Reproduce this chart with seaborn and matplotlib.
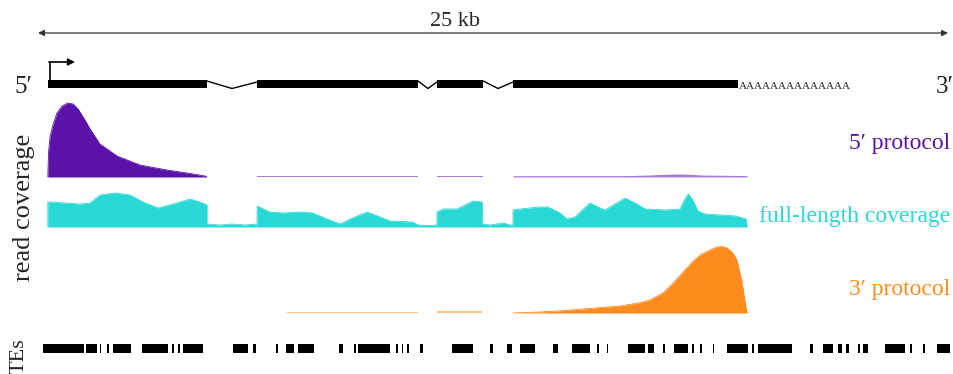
"""
Gene model schematic with read coverage of 5', full-length and 3' protocols
"""

import numpy as np
import pandas as pd
import matplotlib.pyplot as plt
from matplotlib.patches import Rectangle
import seaborn as sns

# ============================================================================
# DATA (positions in kb along the 25 kb locus, coverage in arbitrary units)
# ============================================================================

LOCUS_KB = 25
EXONS_KB = [(0.27, 4.64), (6.02, 10.44), (10.96, 12.23), (13.05, 19.23)]
INTRON_DIP_KB = [5.33, 10.71, 12.64]
POLYA = "AAAAAAAAAAAAAA"

FIVE_KB = [
    [0.27, 0.29, 0.33, 0.41, 0.52, 0.66, 0.82, 0.96, 1.10, 1.29, 1.43, 1.70,
     2.17, 2.80, 3.54, 4.09, 4.59, 4.64],
    [6.02, 10.44],
    [10.96, 12.23],
    [13.05, 16.20, 16.81, 17.30, 17.64, 18.00, 18.19, 19.48],
]
FIVE_H = [
    [0, 25, 40, 52, 64, 71, 74, 73, 68, 57, 48, 33, 21, 12, 7, 4, 1, 0],
    [1.5, 1.5],
    [1.2, 1.2],
    [1.3, 1.4, 2.0, 2.8, 3.0, 2.6, 2.0, 1.4],
]

FULL_KB = [
    [0.27, 0.27, 0.33, 1.15, 1.43, 1.70, 2.12, 2.53, 2.88, 3.30, 3.71, 4.18,
     4.45, 4.64, 4.64, 5.00, 5.33, 5.69, 6.02, 6.02, 6.37, 6.73, 7.20, 7.55,
     7.94, 8.30, 8.57, 9.04, 9.40, 9.67, 10.30, 10.44, 10.71, 10.96, 10.96,
     11.13, 11.51, 11.95, 12.20, 12.20, 12.42, 12.77, 12.97, 13.05, 13.05,
     13.24, 13.79, 14.01, 14.34, 14.53, 14.75, 15.16, 15.38, 15.58, 15.85,
     16.13, 16.40, 16.68, 17.23, 17.64, 17.77, 17.86, 17.97, 18.13, 18.32,
     18.74, 19.15, 19.45, 19.48],
]
FULL_H = [
    [0, 25, 25, 23, 24, 32, 34, 32, 25, 19, 23, 28, 25, 22, 3, 2, 3, 2, 3, 21,
     15, 14, 15, 14, 8, 3, 8, 15, 10, 6, 5, 2, 1.5, 2, 15, 18, 18, 26, 25, 3,
     2, 4, 2, 2, 17, 18, 20, 20, 14, 8, 10, 24, 20, 17, 23, 29, 24, 18, 17,
     18, 28, 33, 28, 16, 13, 12, 11, 8, 0],
]

THREE_KB = [
    [6.84, 10.44],
    [10.96, 12.20],
    [13.05, 13.79, 14.40, 14.97, 15.99, 16.50, 16.81, 17.17, 17.45, 17.72,
     18.00, 18.19, 18.46, 18.65, 18.80, 18.93, 19.09, 19.20, 19.34, 19.42,
     19.48],
]
THREE_H = [
    [1.5, 1.5],
    [1.8, 1.8],
    [0, 1, 2.3, 4, 7, 10, 13, 20, 30, 41, 52, 58, 63, 66, 66.5, 65, 60, 53,
     31, 12, 0],
]

TES_KB = [
    (0.14, 1.26), (1.32, 1.62), (1.70, 1.73), (1.90, 1.95), (2.06, 2.55),
    (2.86, 3.57), (3.68, 3.74), (3.85, 3.90), (3.98, 4.53), (5.36, 5.77),
    (5.91, 5.99), (6.54, 6.59), (6.81, 7.03), (7.14, 7.58), (8.27, 8.38),
    (8.68, 8.74), (8.79, 9.67), (9.84, 9.89), (10.00, 10.03), (10.14, 10.16),
    (10.49, 10.58), (11.37, 11.95), (12.42, 12.50), (12.88, 13.02),
    (13.24, 13.65), (14.15, 14.29), (14.67, 15.16), (15.36, 15.38),
    (15.63, 15.66), (16.21, 16.68), (16.76, 16.92), (17.17, 17.23),
    (17.47, 17.86), (17.97, 18.02), (18.19, 18.24), (18.54, 18.57),
    (18.93, 19.51), (19.62, 19.64), (19.78, 20.71), (21.21, 21.29),
    (21.57, 21.84), (21.98, 22.09), (22.20, 22.28), (22.53, 22.58),
    (22.66, 22.80), (23.27, 23.82), (23.96, 24.01), (24.31, 24.37),
    (24.70, 25.05),
]

TRACKS = ['5′ protocol', 'full-length coverage', '3′ protocol']
COLORS = ['#5a12a8', '#28d8d4', '#fd8b1e']

# ============================================================================
# LAYOUT (figure pixels)
# ============================================================================

W, H = 954, 374
PX_PER_KB = 36.4
X0_PX = 38


def kb(px):
    return (px - X0_PX) / PX_PER_KB


BASELINES = [177, 227, 313]
LABEL_Y = [143, 216, 290]
GENE_Y, GENE_HALF = 84, 4
TE_Y, TE_HALF = 348, 4.5

# ============================================================================
# PLOT
# ============================================================================

sns.set_theme(style="white")
plt.rcParams['font.family'] = ['Liberation Serif', 'DejaVu Serif']

fig = plt.figure(figsize=(W / 100, H / 100), dpi=100)
ax = fig.add_axes([0, 0, 1, 1])

# coverage tracks
rows = []
all_kb = [FIVE_KB, FULL_KB, THREE_KB]
all_h = [FIVE_H, FULL_H, THREE_H]
for t, (segs_kb, segs_h) in enumerate(zip(all_kb, all_h)):
    for s, (xs, hs) in enumerate(zip(segs_kb, segs_h)):
        for x, h in zip(xs, hs):
            rows.append({'track': TRACKS[t], 'seg': f'{t}-{s}', 'kb': x,
                         'y': BASELINES[t] - h, 'base': BASELINES[t],
                         'thin': max(hs) < 4})
cov = pd.DataFrame(rows)

for (track, seg), d in cov.groupby(['track', 'seg'], sort=False):
    color = COLORS[TRACKS.index(track)]
    alpha = 0.55 if d['thin'].iloc[0] else 1.0
    ax.fill_between(d['kb'], d['y'], d['base'], color=color, lw=0,
                    alpha=alpha)

sns.lineplot(data=cov[~cov['thin']], x='kb', y='y', hue='track',
             units='seg', estimator=None, sort=False, palette=COLORS,
             hue_order=TRACKS, lw=0.6, legend=False, ax=ax)
ax.set_xlim(kb(0), kb(W))
ax.set_ylim(H, 0)
ax.axis('off')

for name, color, ly in zip(TRACKS, COLORS, LABEL_Y):
    ax.text(kb(950), ly, name, color=color, fontsize=17,
            ha='right', va='center')

# gene model
for start, end in EXONS_KB:
    ax.add_patch(Rectangle((start, GENE_Y - GENE_HALF), end - start,
                           2 * GENE_HALF, color='black', lw=0))
for (s0, e0), (s1, e1), dip in zip(EXONS_KB[:-1], EXONS_KB[1:], INTRON_DIP_KB):
    ax.plot([e0, dip, s1], [GENE_Y - 3, GENE_Y + 4.5, GENE_Y - 2],
            color='black', lw=1)
ax.text(EXONS_KB[-1][1] + 0.02, GENE_Y + 2, POLYA, fontsize=8,
        ha='left', va='center')

# transcription start arrow
tss = EXONS_KB[0][0] + 0.05
ax.plot([tss, tss], [GENE_Y - GENE_HALF, 62], color='black', lw=1.2)
ax.annotate('', xy=(kb(75), 62), xytext=(tss - 0.02, 62),
            arrowprops=dict(arrowstyle='-|>', color='black', lw=1.2,
                            mutation_scale=10, shrinkA=0, shrinkB=0))

# scale arrow
ax.annotate('', xy=(LOCUS_KB, 33), xytext=(0, 33),
            arrowprops=dict(arrowstyle='<|-|>', color='#333333', lw=0.9,
                            mutation_scale=9, shrinkA=0, shrinkB=0))
ax.text(kb(455), 21, f'{LOCUS_KB} kb', fontsize=16, ha='center',
        va='center')

ax.text(kb(23), 87, '5′', fontsize=18, ha='center', va='center')
ax.text(kb(945), 87, '3′', fontsize=18, ha='center', va='center')

# TEs track
for start, end in TES_KB:
    ax.add_patch(Rectangle((start, TE_Y - TE_HALF), max(end - start, 0.04),
                           2 * TE_HALF, color='black', lw=0))

ax.text(kb(24), 207, 'read coverage', fontsize=19, rotation=90,
        ha='center', va='center')
ax.text(kb(19), 356, 'TEs', fontsize=16, rotation=90,
        ha='center', va='center')

fig.savefig('out.png', dpi=100)
